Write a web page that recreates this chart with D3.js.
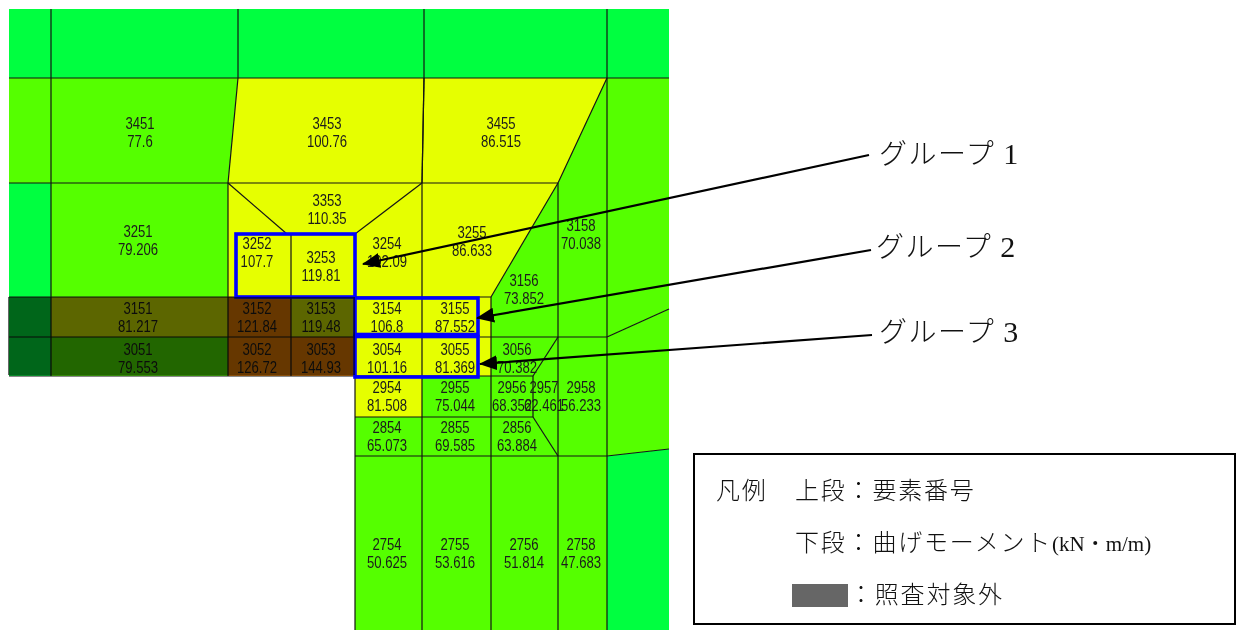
<!DOCTYPE html>
<html>
<head>
<meta charset="utf-8">
<script src="https://cdn.jsdelivr.net/npm/d3@7"></script>
<style>
    html, body { margin: 0; padding: 0; background: #fff; }
    svg { display: block; }
    .cell-label { font-family: "Liberation Sans", sans-serif; font-size: 16px; fill: #1c1c1c; text-anchor: middle; }
    .note { font-family: "Liberation Serif", "Noto Sans CJK JP", serif; font-weight: 300; fill: #111; }
</style>
</head>
<body>
<div id="chart"></div>
<script>
// element numbers and bending moments (kN*m/m) as printed in the picture
const elementIds = [
    3451, 3453, 3455, 3353, 3251, 3252, 3253, 3254, 3255, 3158, 3156,
    3151, 3152, 3153, 3154, 3155, 3051, 3052, 3053, 3054, 3055, 3056,
    2954, 2955, 2956, 2957, 2958, 2854, 2855, 2856, 2754, 2755, 2756, 2758
];
const moments = [
    "77.6", "100.76", "86.515", "110.35", "79.206", "107.7", "119.81", "102.09", "86.633", "70.038", "73.852",
    "81.217", "121.84", "119.48", "106.8", "87.552", "79.553", "126.72", "144.93", "101.16", "81.369", "70.382",
    "81.508", "75.044", "68.352", "62.461", "56.233", "65.073", "69.585", "63.884", "50.625", "53.616", "51.814", "47.683"
];

// mesh geometry, in mesh units, same order as elementIds
const elementOutlines = [
    [[42,69],[229,69],[219,174],[42,174]],
    [[229,69],[415,69],[414,123],[413,174],[219,174]],
    [[415,69],[598,69],[549,174],[413,174]],
    [[219,174],[413,174],[346,225],[278,225]],
    [[42,174],[219,174],[219,288],[42,288]],
    [[219,174],[278,225],[282,225],[282,288],[219,288]],
    [[282,225],[346,225],[346,288],[282,288]],
    [[346,225],[413,174],[413,288],[346,288]],
    [[413,174],[549,174],[482,288],[413,288]],
    [[549,174],[598,69],[598,328],[549,328]],
    [[549,174],[549,328],[482,328],[482,288]],
    [[42,288],[219,288],[219,328],[42,328]],
    [[219,288],[282,288],[282,328],[219,328]],
    [[282,288],[346,288],[346,328],[282,328]],
    [[346,288],[413,288],[413,328],[346,328]],
    [[413,288],[482,288],[482,328],[413,328]],
    [[42,328],[219,328],[219,367],[42,367]],
    [[219,328],[282,328],[282,367],[219,367]],
    [[282,328],[346,328],[346,367],[282,367]],
    [[346,328],[413,328],[413,367],[346,367]],
    [[413,328],[482,328],[482,367],[413,367]],
    [[482,328],[549,328],[524,367],[482,367]],
    [[346,367],[413,367],[413,408],[346,408]],
    [[413,367],[482,367],[482,408],[413,408]],
    [[482,367],[524,367],[524,408],[482,408]],
    [[524,367],[549,328],[549,447],[524,408]],
    [[549,328],[598,328],[598,447],[549,447]],
    [[346,408],[413,408],[413,447],[346,447]],
    [[413,408],[482,408],[482,447],[413,447]],
    [[482,408],[524,408],[549,447],[482,447]],
    [[346,447],[413,447],[413,621],[346,621]],
    [[413,447],[482,447],[482,621],[413,621]],
    [[482,447],[549,447],[549,621],[482,621]],
    [[549,447],[598,447],[598,621],[549,621]]
];

// label centre x and baseline y of the first line
const labelAnchors = [
    [131,120],[318,120],[492,120],[318,197],[129,228],[248,240],[312,254],[378,240],[463,229],[572,222],[515,277],
    [129,305],[248,305],[312,305],[378,305],[446,305],[129,346],[248,346],[312,346],[378,346],[446,346],[508,346],
    [378,384],[446,384],[503,384],[535,384],[572,384],[378,424],[446,424],[508,424],[378,541],[446,541],[515,541],[572,541]
];

// elements with no printed number, moments estimated from their colour band
const outerMoments = [40, 40, 40, 40, 40, 60, 40, 40, 40, 60, 60, 40];
const outerOutlines = [
    [[0,0],[42,0],[42,69],[0,69]],
    [[42,0],[229,0],[229,69],[42,69]],
    [[229,0],[415,0],[415,69],[229,69]],
    [[415,0],[598,0],[598,69],[415,69]],
    [[598,0],[660,0],[660,69],[598,69]],
    [[0,69],[42,69],[42,174],[0,174]],
    [[0,174],[42,174],[42,288],[0,288]],
    [[0,288],[42,288],[42,328],[0,328]],
    [[0,328],[42,328],[42,367],[0,367]],
    [[598,69],[660,69],[660,300],[598,328]],
    [[598,328],[660,300],[660,440],[598,447]],
    [[598,447],[660,440],[660,621],[598,621]]
];

const bandLimits = [45, 80, 120];
const bandColors = ["#00ff40", "#55ff00", "#e6ff00", "#ff8a00"];

// blue group frames: x0, y0, x1, y1 in mesh units
const groupFrames = [
    [227, 225, 346, 288],
    [346, 289, 469, 325.5],
    [346, 327.5, 469, 368]
];
// group labels with their arrows: line start and arrow tip
const groupNames = ["グループ", "グループ", "グループ"];
const groupNumbers = ["1", "2", "3"];
const groupArrowStarts = [[860, 146], [862, 241], [863, 326]];
const groupArrowTips = [[354, 255], [468, 309], [471, 355]];
const groupLabelAnchors = [[870, 155], [867, 248], [870, 333]];

const legendLines = ["凡例", "上段：要素番号", "下段：曲げモーメント", "：照査対象外"];
const legendUnit = "(kN・m/m)";

const width = 1240, height = 630;
const x = d3.scaleLinear().domain([0, 660]).range([9, 669]);
const y = d3.scaleLinear().domain([0, 621]).range([9, 630]);
const band = d3.scaleThreshold().domain(bandLimits).range(bandColors);
const outline = d3.line().x(d => x(d[0])).y(d => y(d[1])).curve(d3.curveLinearClosed);

const svg = d3.select("#chart").append("svg")
    .attr("width", width)
    .attr("height", height);

const cells = outerOutlines.map((points, i) => ({ points, moment: outerMoments[i] }))
    .concat(elementOutlines.map((points, i) => ({ points, moment: +moments[i] })));

svg.append("g").selectAll("path")
    .data(cells)
    .enter().append("path")
    .attr("d", d => outline(d.points))
    .attr("fill", d => band(d.moment));

// mesh lines: every shared edge once, the outer border of the model stays without a line
const edges = new Map();
cells.forEach(c => c.points.forEach((p, i) => {
    const q = c.points[(i + 1) % c.points.length];
    const key = [p.join(), q.join()].sort().join("|");
    const onBorder = (p[0] === q[0] && (p[0] === 0 || p[0] === 660)) || (p[1] === q[1] && (p[1] === 0 || p[1] === 621));
    if (!onBorder) edges.set(key, [p, q]);
}));

svg.append("g").selectAll("line")
    .data([...edges.values()])
    .enter().append("line")
    .attr("x1", d => x(d[0][0]))
    .attr("y1", d => y(d[0][1]))
    .attr("x2", d => x(d[1][0]))
    .attr("y2", d => y(d[1][1]))
    .attr("stroke", "#141414")
    .attr("stroke-width", 1.2);

// two line labels, squeezed sideways like the narrow screen font of the original
const labels = svg.append("g").selectAll("text")
    .data(elementIds)
    .enter().append("text")
    .attr("class", "cell-label")
    .attr("transform", (d, i) => `translate(${x(labelAnchors[i][0])},${y(labelAnchors[i][1])}) scale(0.82,1)`);
labels.append("tspan").attr("x", 0).attr("y", 0).text(d => d);
labels.append("tspan").attr("x", 0).attr("y", 18).text((d, i) => moments[i]);

svg.append("g").selectAll("rect")
    .data(groupFrames)
    .enter().append("rect")
    .attr("x", d => x(d[0]))
    .attr("y", d => y(d[1]))
    .attr("width", d => x(d[2]) - x(d[0]))
    .attr("height", d => y(d[3]) - y(d[1]))
    .attr("fill", "none")
    .attr("stroke", "#0000ff")
    .attr("stroke-width", 3.6);

// out of scope area, darkens what is under it
svg.append("rect")
    .attr("x", x(-1))
    .attr("y", y(288))
    .attr("width", x(346) - x(-1))
    .attr("height", y(366) - y(288))
    .attr("fill", "#666666")
    .style("mix-blend-mode", "multiply");

svg.append("defs").append("marker")
    .attr("id", "arrow-head")
    .attr("markerUnits", "userSpaceOnUse")
    .attr("viewBox", "0 0 18 15")
    .attr("refX", 17)
    .attr("refY", 7.5)
    .attr("markerWidth", 18)
    .attr("markerHeight", 15)
    .attr("orient", "auto")
    .append("path")
    .attr("d", "M0,0L18,7.5L0,15Z")
    .attr("fill", "#000");

svg.append("g").selectAll("line")
    .data(groupNames)
    .enter().append("line")
    .attr("x1", (d, i) => x(groupArrowStarts[i][0]))
    .attr("y1", (d, i) => y(groupArrowStarts[i][1]))
    .attr("x2", (d, i) => x(groupArrowTips[i][0]))
    .attr("y2", (d, i) => y(groupArrowTips[i][1]))
    .attr("stroke", "#000")
    .attr("stroke-width", 2.2)
    .attr("marker-end", "url(#arrow-head)");

const groupLabels = svg.append("g").selectAll("text")
    .data(groupNames)
    .enter().append("text")
    .attr("class", "note")
    .attr("x", (d, i) => x(groupLabelAnchors[i][0]))
    .attr("y", (d, i) => y(groupLabelAnchors[i][1]))
    .attr("font-size", 28)
    .attr("letter-spacing", 1.5);
groupLabels.append("tspan").text(d => d);
groupLabels.append("tspan")
    .attr("dx", 8)
    .attr("font-size", 30)
    .text((d, i) => groupNumbers[i]);

// legend box
const legend = svg.append("g");
legend.append("rect")
    .attr("x", 694).attr("y", 454)
    .attr("width", 541).attr("height", 170)
    .attr("fill", "#fff")
    .attr("stroke", "#000")
    .attr("stroke-width", 2);
legend.append("rect")
    .attr("x", 792).attr("y", 584)
    .attr("width", 56).attr("height", 23)
    .attr("fill", "#666666");

const legendX = [716, 795, 795, 849];
const legendY = [499, 499, 551, 603];
const legendTexts = legend.selectAll("text")
    .data(legendLines)
    .enter().append("text")
    .attr("class", "note")
    .attr("x", (d, i) => legendX[i])
    .attr("y", (d, i) => legendY[i])
    .attr("font-size", 24)
    .attr("letter-spacing", 1.8);
legendTexts.append("tspan").text(d => d);
legendTexts.filter((d, i) => i === 2).append("tspan")
    .attr("font-size", 21)
    .attr("letter-spacing", 0)
    .text(legendUnit);
</script>
</body>
</html>
